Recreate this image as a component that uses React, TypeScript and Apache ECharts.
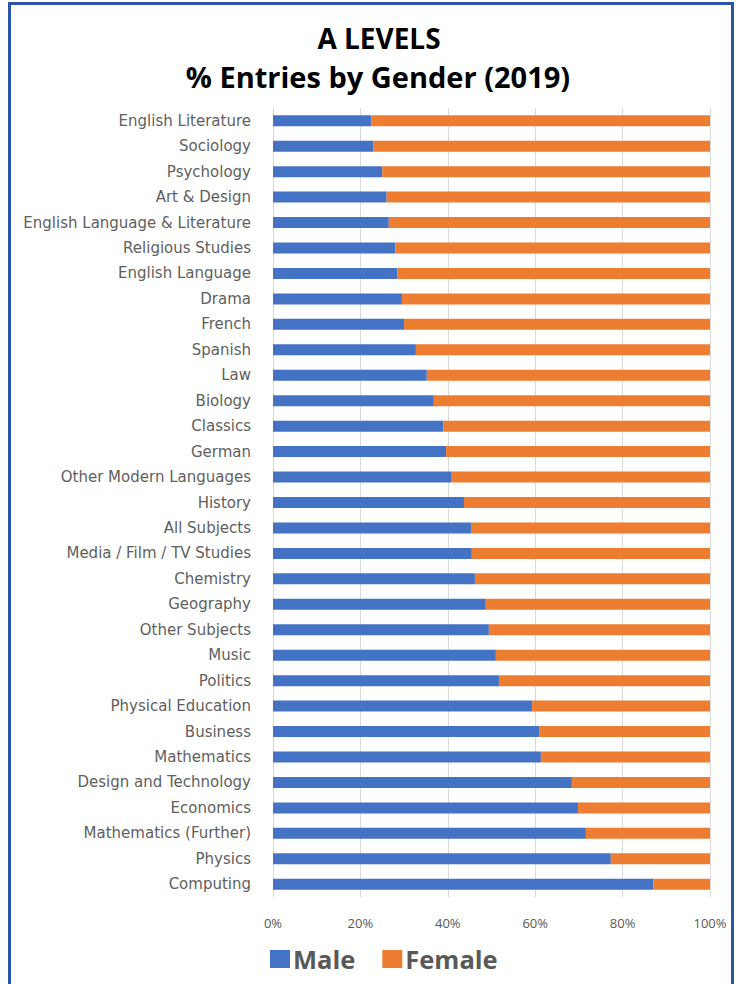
import React, { useEffect, useRef } from "react";
import * as echarts from "echarts";

const categories = [
  "English Literature",
  "Sociology",
  "Psychology",
  "Art & Design",
  "English Language & Literature",
  "Religious Studies",
  "English Language",
  "Drama",
  "French",
  "Spanish",
  "Law",
  "Biology",
  "Classics",
  "German",
  "Other Modern Languages",
  "History",
  "All Subjects",
  "Media / Film / TV Studies",
  "Chemistry",
  "Geography",
  "Other Subjects",
  "Music",
  "Politics",
  "Physical Education",
  "Business",
  "Mathematics",
  "Design and Technology",
  "Economics",
  "Mathematics (Further)",
  "Physics",
  "Computing",
];

const male = [
  22.5, 23, 25, 26, 26.5, 28, 28.5, 29.5, 30, 32.7, 35.2, 36.8, 39, 39.6, 40.9,
  43.7, 45.3, 45.5, 46.2, 48.7, 49.4, 51, 51.7, 59.3, 60.9, 61.3, 68.4, 69.8,
  71.6, 77.3, 87,
];

const female = [
  77.5, 77, 75, 74, 73.5, 72, 71.5, 70.5, 70, 67.3, 64.8, 63.2, 61, 60.4, 59.1,
  56.3, 54.7, 54.5, 53.8, 51.3, 50.6, 49, 48.3, 40.7, 39.1, 38.7, 31.6, 30.2,
  28.4, 22.7, 13,
];

const xTicks = [0, 20, 40, 60, 80, 100];

const titleLines = ["A LEVELS", "% Entries by Gender (2019)"];

export default function App() {
  const ref = useRef<HTMLDivElement>(null);

  useEffect(() => {
    if (!ref.current) return;
    const chart = echarts.init(ref.current, undefined, { renderer: "svg" });
    const font = "Open Sans";
    chart.setOption({
      animation: false,
      backgroundColor: "#ffffff",
      graphic: [
        {
          type: "rect",
          shape: { x: 9.5, y: 3.5, width: 723, height: 1010 },
          style: { fill: "none", stroke: "#2B55A6", lineWidth: 3 },
          z: 100,
        },
        {
          type: "text",
          x: 379,
          y: 38,
          style: {
            text: titleLines[0],
            font: `bold 28px ${font}`,
            fill: "#000000",
            textAlign: "center",
            textVerticalAlign: "middle",
          },
        },
        {
          type: "text",
          x: 378,
          y: 76,
          style: {
            text: titleLines[1],
            font: `bold 29px ${font}`,
            fill: "#000000",
            textAlign: "center",
            textVerticalAlign: "middle",
          },
        },
      ],
      legend: {
        data: ["Male", "Female"],
        left: 265,
        top: 941,
        itemWidth: 20,
        itemHeight: 18,
        itemGap: 27,
        icon: "rect",
        textStyle: {
          fontFamily: font,
          fontWeight: "bold",
          fontSize: 25.5,
          color: "#595959",
          padding: [0, 0, 0, -2],
        },
      },
      grid: {
        left: 273,
        right: 29,
        top: 108,
        bottom: 87,
        containLabel: false,
      },
      xAxis: {
        type: "value",
        min: 0,
        max: 100,
        interval: 20,
        axisLine: { show: false },
        axisTick: { show: false },
        splitLine: { show: true, lineStyle: { color: "#d9d9d9", width: 1 } },
        axisLabel: {
          margin: 19,
          fontFamily: font,
          fontSize: 13,
          color: "#595959",
          formatter: (v: number) => (xTicks.includes(v) ? `${v}%` : ""),
        },
      },
      yAxis: {
        type: "category",
        data: categories,
        inverse: true,
        axisLine: { show: true, lineStyle: { color: "#d9d9d9" } },
        axisTick: { show: false },
        axisLabel: {
          margin: 22,
          fontFamily: "DejaVu Sans",
          fontSize: 15,
          color: "#606060",
        },
      },
      series: [
        {
          name: "Male",
          type: "bar",
          stack: "total",
          data: male,
          barWidth: 11,
          itemStyle: { color: "#4472C4" },
        },
        {
          name: "Female",
          type: "bar",
          stack: "total",
          data: female,
          barWidth: 11,
          itemStyle: { color: "#ED7D31" },
        },
      ],
    });
    return () => chart.dispose();
  }, []);

  return (
    <div
      style={{
        position: "absolute",
        left: 0,
        top: 0,
        width: 739,
        height: 984,
        background: "#fff",
      }}
    >
      <div ref={ref} style={{ width: 739, height: 984 }} />
    </div>
  );
}
